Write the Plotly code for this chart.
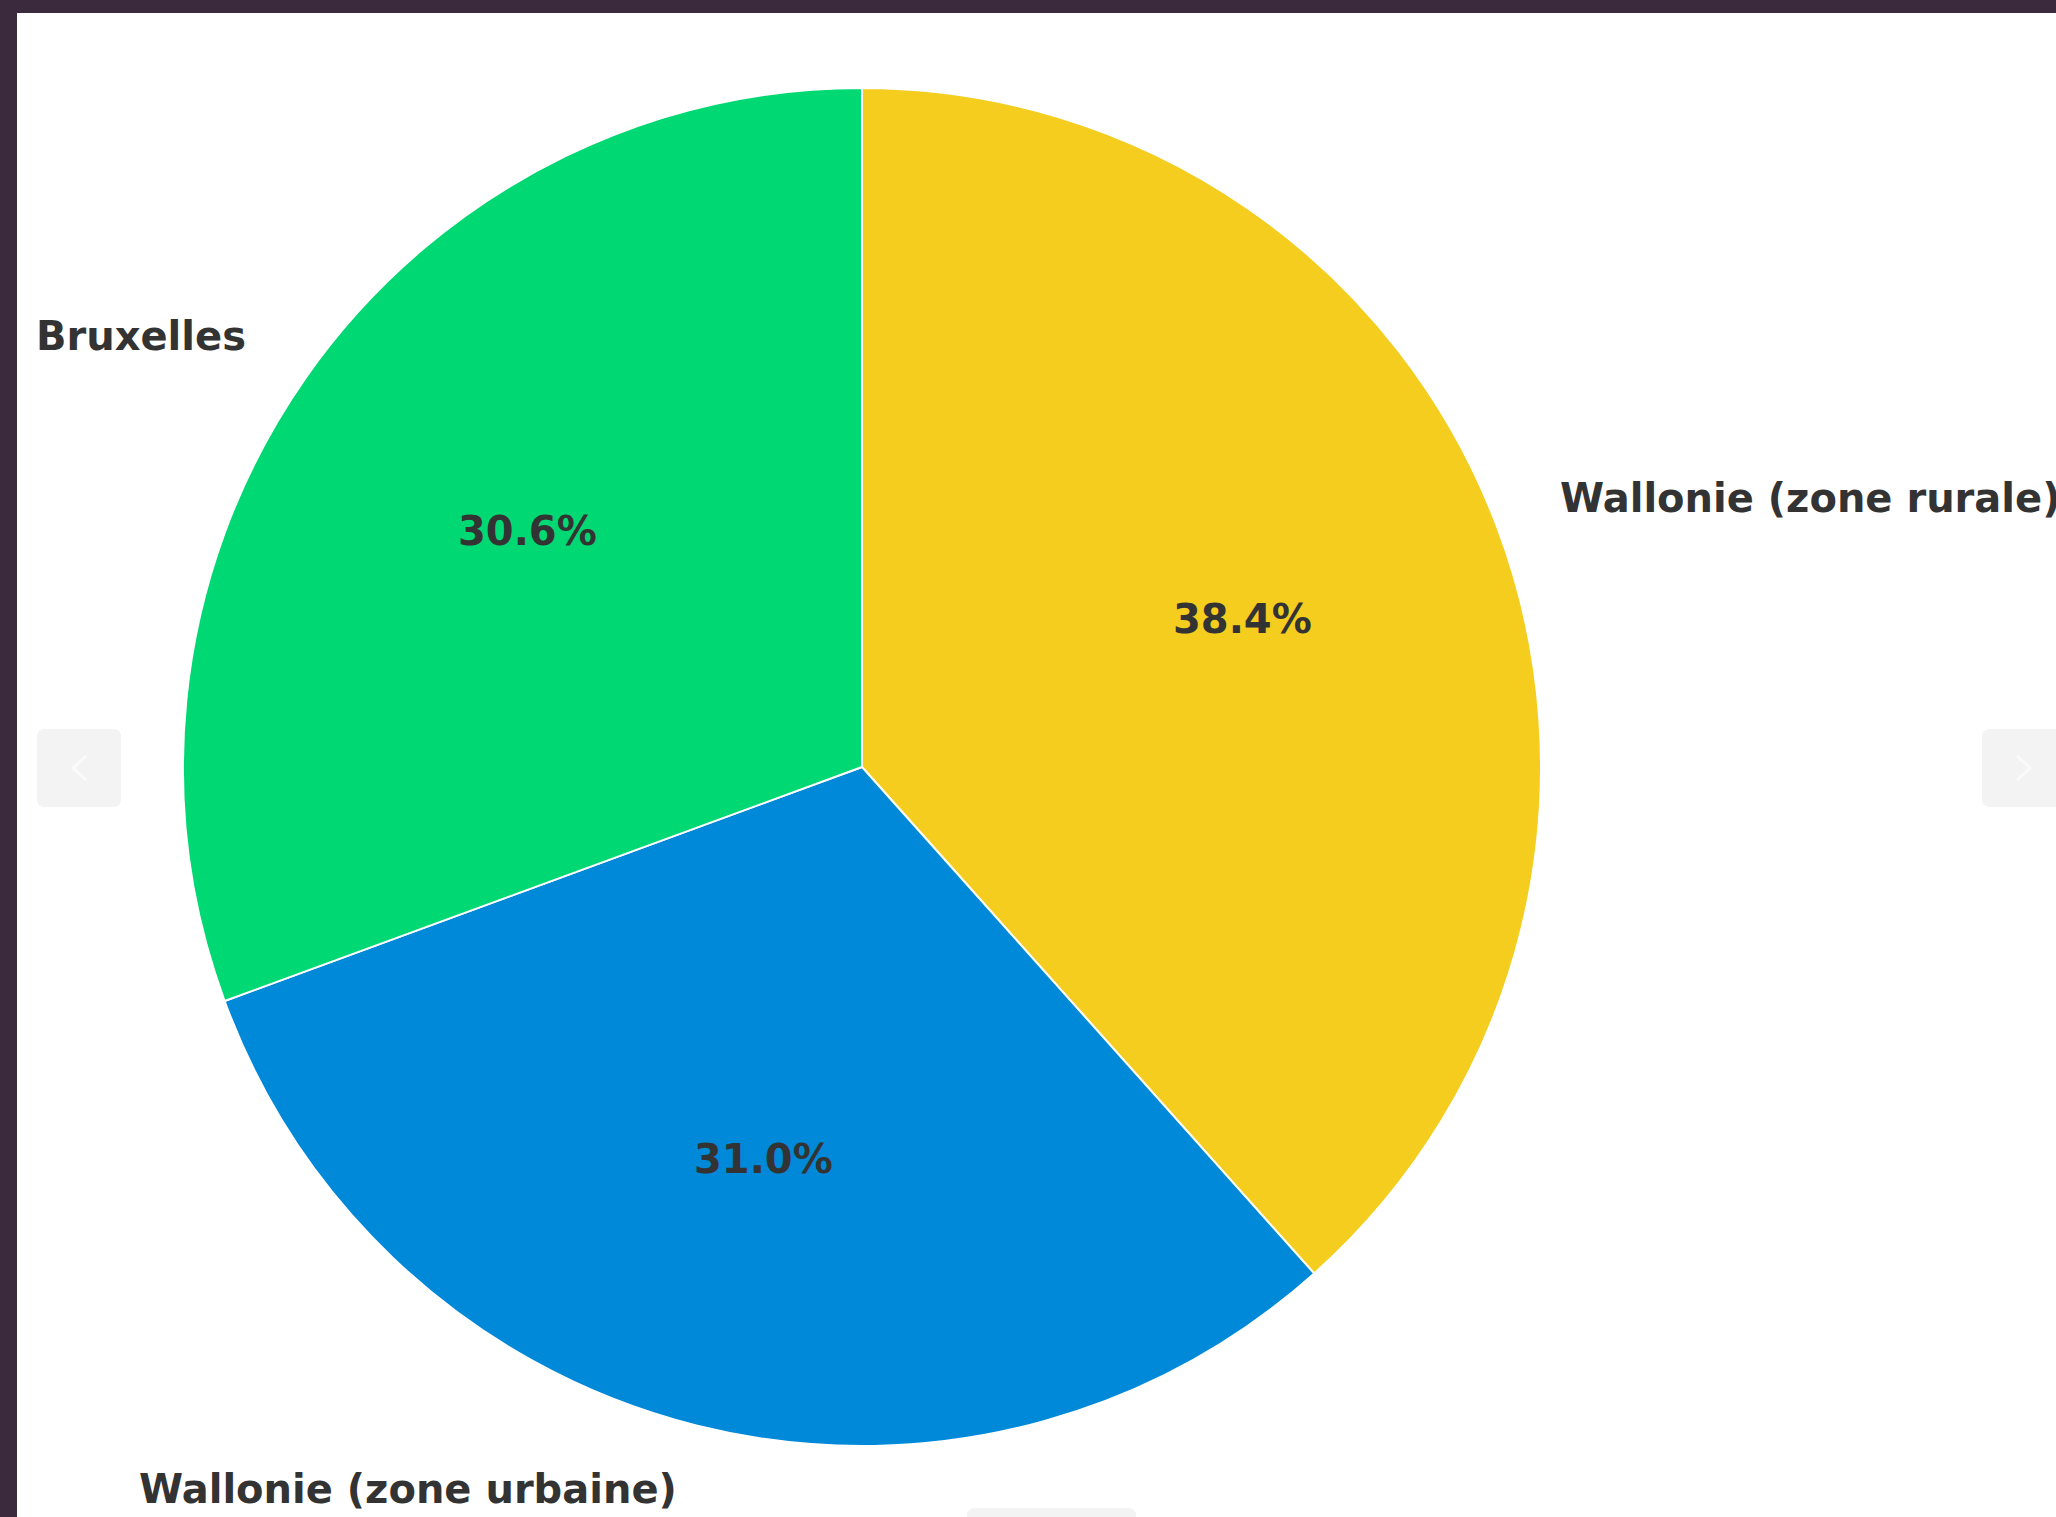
import math
import plotly.graph_objects as go

# ---- data ----
labels = ["Wallonie (zone rurale)", "Wallonie (zone urbaine)", "Bruxelles"]
values = [38.4, 31.0, 30.6]
colors = ["#f4cd1f", "#0089d8", "#00d973"]

# ---- page geometry (px) ----
W, H = 2056, 1517
CX, CY, R = 862, 767, 679  # pie center / radius in page pixels
FONT = "DejaVu Sans"
TXT = "#333333"
BG_DARK = "#3b2a3e"


def px(x):
    return x / W


def py(y):
    return 1 - y / H


fig = go.Figure()
fig.add_trace(go.Pie(
    labels=labels,
    values=values,
    sort=False,
    direction="clockwise",
    rotation=0,
    marker=dict(colors=colors, line=dict(color="white", width=2)),
    textinfo="none",
    hoverinfo="label+percent",
    showlegend=False,
    domain=dict(x=[px(CX - R), px(CX + R)], y=[py(CY + R), py(CY - R)]),
))

# labels at 1.1 r and percentages at 0.6 r (computed from values)
total = sum(values)
start = 0.0  # degrees clockwise from 12 o'clock
annotations = []
for lab, v in zip(labels, values):
    frac = v / total
    mid = start + frac * 360 / 2
    start += frac * 360
    ang = math.radians(90 - mid)
    cx, cy = math.cos(ang), math.sin(ang)
    lx, ly = CX + 1.1 * R * cx, CY - 1.1 * R * cy
    annotations.append(dict(
        x=px(lx), y=py(ly), xref="paper", yref="paper",
        text=f"<b>{lab}</b>", showarrow=False,
        xanchor="left" if cx > 0 else "right", yanchor="middle",
        xshift=-2, yshift=3,
        font=dict(family=FONT, size=40, color=TXT),
    ))
    tx, ty = CX + 0.6 * R * cx, CY - 0.6 * R * cy
    annotations.append(dict(
        x=px(tx), y=py(ty), xref="paper", yref="paper",
        text=f"<b>{frac*100:.1f}%</b>", showarrow=False,
        xanchor="center", yanchor="middle", yshift=3,
        font=dict(family=FONT, size=40, color=TXT),
    ))


def rrect(x0, y0, x1, y1, r, color):
    # rounded rect path in paper coords from pixel values
    rx, ry = r / W, r / H
    X0, X1 = px(x0), px(x1)
    Y0, Y1 = py(y0), py(y1)  # Y0 top, Y1 bottom
    path = (f"M {X0+rx},{Y0} L {X1-rx},{Y0} Q {X1},{Y0} {X1},{Y0-ry} "
            f"L {X1},{Y1+ry} Q {X1},{Y1} {X1-rx},{Y1} L {X0+rx},{Y1} "
            f"Q {X0},{Y1} {X0},{Y1+ry} L {X0},{Y0-ry} Q {X0},{Y0} {X0+rx},{Y0} Z")
    return dict(type="path", path=path, xref="paper", yref="paper",
                fillcolor=color, line=dict(width=0), layer="below")


shapes = [
    dict(type="rect", xref="paper", yref="paper", x0=px(17), x1=1.01,
         y0=-0.01, y1=py(13), fillcolor="white", line=dict(width=0), layer="below"),
    rrect(37, 729, 121, 807, 8, "#f3f3f3"),
    rrect(1982, 729, 2070, 807, 8, "#f3f3f3"),
    rrect(967, 1508, 1136, 1530, 8, "#f3f3f3"),
    dict(type="path", xref="paper", yref="paper",
         path=f"M {px(86)},{py(756)} L {px(73)},{py(768)} L {px(86)},{py(780)}",
         line=dict(color="#fafafa", width=3)),
    dict(type="path", xref="paper", yref="paper",
         path=f"M {px(2017)},{py(756)} L {px(2030)},{py(768)} L {px(2017)},{py(780)}",
         line=dict(color="#fafafa", width=3)),
]

fig.update_layout(
    width=W, height=H,
    margin=dict(l=0, r=0, t=0, b=0),
    paper_bgcolor=BG_DARK,
    font=dict(family=FONT, color=TXT),
    annotations=annotations,
    shapes=shapes,
)

fig.write_html("out.html", config={"displayModeBar": False},
               post_script="document.body.style.margin='0';document.body.style.overflow='hidden';")
